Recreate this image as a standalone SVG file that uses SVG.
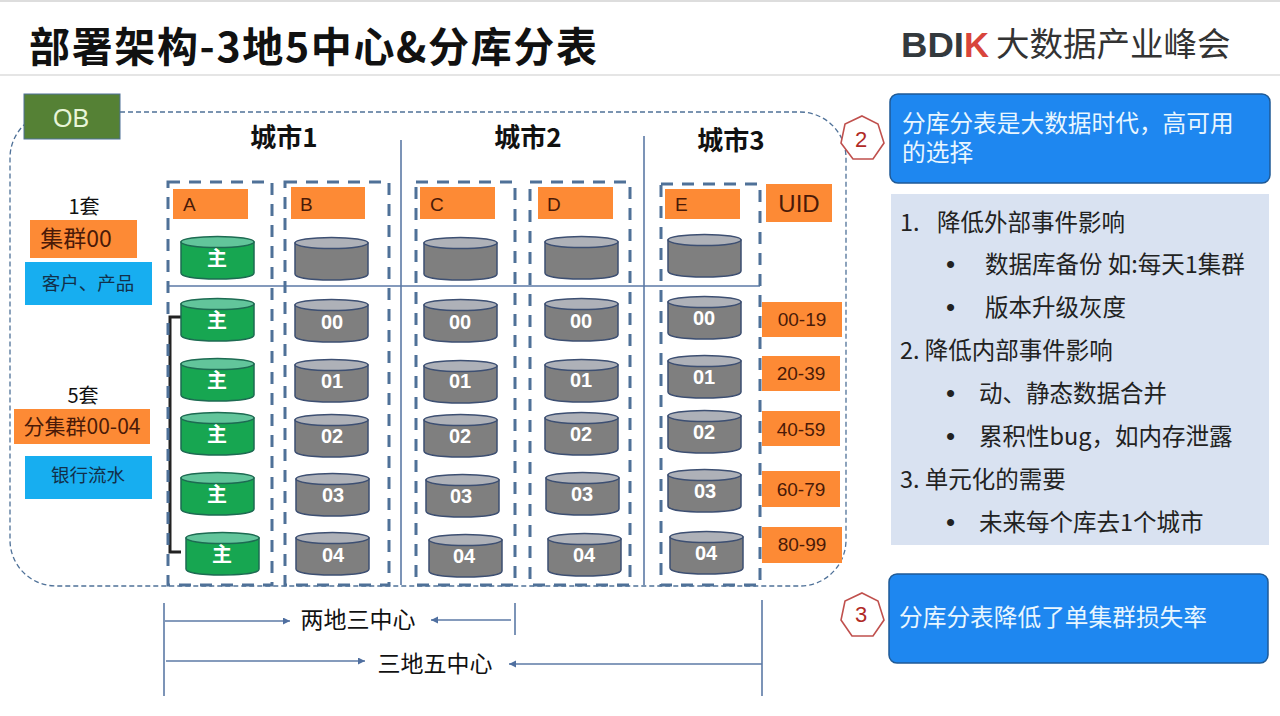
<svg xmlns="http://www.w3.org/2000/svg" width="1280" height="716" viewBox="0 0 1280 716">
<style>
text{font-family:"Liberation Sans","Noto Sans CJK SC",sans-serif;fill:#111}
.cjk{font-family:"Noto Sans CJK SC",sans-serif}
.m{text-anchor:middle}
.org{fill:#fd8a35}
.ot{fill:#4a1a08;font-size:19px}
.col{fill:none;stroke:#4f7198;stroke-width:3;stroke-dasharray:12 9}
.ln{fill:none;stroke:#5c7aa6;stroke-width:1.6}
.ar{fill:none;stroke:#5c7aa6;stroke-width:1.6;marker-end:url(#ah)}
.cb{fill:#fff;font-size:20px;font-weight:700;text-anchor:middle}
.city{font-size:26px;font-weight:700;text-anchor:middle}
.b{fill:#1e87f0;stroke:#1f5a96;stroke-width:1.5}
.rt{fill:#222;font-size:23.5px}
.dot{fill:#222;font-size:26px;font-family:"Liberation Sans",sans-serif}
.wt{fill:#e8f6ff;font-size:23.7px}
.hex{fill:#fff;stroke:#c0504d;stroke-width:1.6}
.hext{fill:#b02a26;font-size:22px;text-anchor:middle}
</style>
<defs>
<marker id="ah" markerWidth="8" markerHeight="8" refX="7" refY="3.5" orient="auto" markerUnits="userSpaceOnUse"><path d="M0 0L7 3.5L0 7z" fill="#4f6fa0"/></marker>
<g id="gc"><path d="M0 6V37C0 41 16 43 36.500 43S73 41 73 37V6z" fill="#17a651" stroke="#1d6b52" stroke-width="1.500"/><ellipse cx="36.500" cy="6" rx="36.500" ry="5.500" fill="#62c59b" stroke="#1d6b52" stroke-width="1.500"/></g>
<g id="yc"><path d="M0 6V37C0 41 16 43 36.500 43S73 41 73 37V6z" fill="#7f7f7f" stroke="#3d4f72" stroke-width="1.500"/><ellipse cx="36.500" cy="6" rx="36.500" ry="5.500" fill="#aeb1b8" stroke="#3d4f72" stroke-width="1.500"/></g>
</defs>
<rect width="1280" height="716" fill="#fff"/>
<rect x="0" y="0" width="1280" height="2" fill="#ddd"/>
<path d="M0 75H1280" stroke="#dcdcdc" stroke-width="1.500"/>
<g id="title"><text x="29" y="62" font-size="41" font-weight="700" class="cjk" textLength="568">部署架构-3地5中心&amp;分库分表</text></g>
<g id="logo"><text x="901" y="57" font-size="35" font-weight="700" style="fill:#33393d" textLength="63" lengthAdjust="spacingAndGlyphs">BDI</text><text x="964" y="57" font-size="35" font-weight="700" style="fill:#d8453c" textLength="25" lengthAdjust="spacingAndGlyphs">K</text><text x="996" y="56" font-size="33.500" style="fill:#333" class="cjk">大数据产业峰会</text></g>

<g id="ob-area"><rect x="10" y="112" width="836" height="474" rx="46" fill="none" stroke="#4f7198" stroke-width="1.300" stroke-dasharray="5 3"/></g>
<g id="ob"><rect x="24" y="94" width="96" height="45" fill="#558135" stroke="#4f7198"/><text x="71" y="127" class="m" font-size="25" style="fill:#e8f5d8">OB</text></g>

<g id="connectors">
<path class="ln" d="M169 286H760M401 140V585M644 136V585"/>
<path d="M181 317H170V552H181" fill="none" stroke="#222" stroke-width="3"/>
<path class="ln" d="M164 603V696M515 603V635M762 600V696"/>
<path class="ar" d="M165 621H290"/>
<path class="ar" d="M511 620H431"/>
<path class="ar" d="M166 661H365"/>
<path class="ar" d="M762 664H509"/>
</g>

<g id="columns">
<rect class="col" x="168" y="182" width="104" height="403"/>
<rect class="col" x="285" y="182" width="104" height="403"/>
<rect class="col" x="416" y="182" width="99" height="403"/>
<rect class="col" x="530" y="182" width="100" height="403"/>
<rect class="col" x="661" y="184" width="99" height="401"/>
</g>

<g id="city1"><text x="284" y="147" class="city cjk">城市1</text></g>
<g id="city2"><text x="528" y="147" class="city cjk">城市2</text></g>
<g id="city3"><text x="731" y="150" class="city cjk">城市3</text></g>

<g id="label-a"><rect class="org" x="173" y="189" width="75" height="30"/><text class="ot" x="183" y="211">A</text></g>
<g id="label-b"><rect class="org" x="291" y="187" width="74" height="32"/><text class="ot" x="300" y="211">B</text></g>
<g id="label-c"><rect class="org" x="420" y="187" width="75" height="32"/><text class="ot" x="430" y="211">C</text></g>
<g id="label-d"><rect class="org" x="538" y="187" width="75" height="32"/><text class="ot" x="547" y="211">D</text></g>
<g id="label-e"><rect class="org" x="665" y="189" width="75" height="30"/><text class="ot" x="675" y="211">E</text></g>
<g id="label-uid"><rect class="org" x="766" y="184" width="66" height="38"/><text class="ot m" x="799" y="212" style="font-size:24px">UID</text></g>

<g id="set1"><text x="84" y="214" class="m cjk" font-size="20">1套</text><rect class="org" x="30" y="220" width="107" height="38"/><text x="76" y="247" class="m ot cjk" style="font-size:23px">集群00</text><rect x="25" y="262" width="127" height="43" fill="#17aef0"/><text x="88" y="290" class="m cjk" font-size="18.500" style="fill:#12304a">客户、产品</text></g>
<g id="set5"><text x="83" y="403" class="m cjk" font-size="20">5套</text><rect class="org" x="14" y="409" width="136" height="35"/><text x="82" y="434" class="m ot cjk" style="font-size:21px">分集群00-04</text><rect x="25" y="456" width="127" height="43" fill="#17aef0"/><text x="88" y="482" class="m cjk" font-size="18.500" style="fill:#12304a">银行流水</text></g>

<g id="db-a-m"><use href="#gc" x="181" y="236"/><text class="cb cjk" x="217" y="266">主</text></g>
<g id="db-a-0"><use href="#gc" x="181" y="298"/><text class="cb cjk" x="217" y="328">主</text></g>
<g id="db-a-1"><use href="#gc" x="181" y="358"/><text class="cb cjk" x="217" y="388">主</text></g>
<g id="db-a-2"><use href="#gc" x="181" y="412"/><text class="cb cjk" x="217" y="442">主</text></g>
<g id="db-a-3"><use href="#gc" x="181" y="472"/><text class="cb cjk" x="217" y="502">主</text></g>
<g id="db-a-4"><use href="#gc" x="186" y="532"/><text class="cb cjk" x="222" y="562">主</text></g>

<g id="db-b-m"><use href="#yc" x="295" y="237"/></g>
<g id="db-b-0"><use href="#yc" x="295" y="299"/><text class="cb" x="332" y="329">00</text></g>
<g id="db-b-1"><use href="#yc" x="295" y="359"/><text class="cb" x="332" y="388">01</text></g>
<g id="db-b-2"><use href="#yc" x="295" y="414"/><text class="cb" x="332" y="443">02</text></g>
<g id="db-b-3"><use href="#yc" x="296" y="473"/><text class="cb" x="333" y="502">03</text></g>
<g id="db-b-4"><use href="#yc" x="296" y="532"/><text class="cb" x="333" y="562">04</text></g>

<g id="db-c-m"><use href="#yc" x="424" y="237"/></g>
<g id="db-c-0"><use href="#yc" x="424" y="299"/><text class="cb" x="460" y="329">00</text></g>
<g id="db-c-1"><use href="#yc" x="424" y="360"/><text class="cb" x="460" y="388">01</text></g>
<g id="db-c-2"><use href="#yc" x="424" y="414"/><text class="cb" x="460" y="443">02</text></g>
<g id="db-c-3"><use href="#yc" x="426" y="474"/><text class="cb" x="461" y="503">03</text></g>
<g id="db-c-4"><use href="#yc" x="429" y="534"/><text class="cb" x="464" y="563">04</text></g>

<g id="db-d-m"><use href="#yc" x="545" y="236"/></g>
<g id="db-d-0"><use href="#yc" x="545" y="298"/><text class="cb" x="581" y="328">00</text></g>
<g id="db-d-1"><use href="#yc" x="545" y="359"/><text class="cb" x="581" y="387">01</text></g>
<g id="db-d-2"><use href="#yc" x="545" y="412"/><text class="cb" x="581" y="441">02</text></g>
<g id="db-d-3"><use href="#yc" x="546" y="472"/><text class="cb" x="582" y="501">03</text></g>
<g id="db-d-4"><use href="#yc" x="548" y="533"/><text class="cb" x="584" y="562">04</text></g>

<g id="db-e-m"><use href="#yc" x="668" y="234"/></g>
<g id="db-e-0"><use href="#yc" x="668" y="296"/><text class="cb" x="704" y="325">00</text></g>
<g id="db-e-1"><use href="#yc" x="668" y="355"/><text class="cb" x="704" y="384">01</text></g>
<g id="db-e-2"><use href="#yc" x="668" y="410"/><text class="cb" x="704" y="439">02</text></g>
<g id="db-e-3"><use href="#yc" x="668" y="469"/><text class="cb" x="705" y="498">03</text></g>
<g id="db-e-4"><use href="#yc" x="670" y="531"/><text class="cb" x="706" y="560">04</text></g>

<g id="uid-0"><rect class="org" x="762" y="302" width="80" height="35"/><text class="ot m" x="802" y="326">00-19</text></g>
<g id="uid-1"><rect class="org" x="762" y="356" width="78" height="35"/><text class="ot m" x="801" y="380">20-39</text></g>
<g id="uid-2"><rect class="org" x="762" y="411" width="78" height="35"/><text class="ot m" x="801" y="436">40-59</text></g>
<g id="uid-3"><rect class="org" x="762" y="471" width="78" height="36"/><text class="ot m" x="801" y="496">60-79</text></g>
<g id="uid-4"><rect class="org" x="762" y="527" width="80" height="36"/><text class="ot m" x="802" y="551">80-99</text></g>

<g id="badge-2"><path class="hex" d="M862 116L878 124L884 143L873 159H853L841 143L845 124z"/><text class="hext" x="861" y="147">2</text></g>
<g id="badge-3"><path class="hex" d="M862 593L878 601L884 620L873 636H852L841 620L845 601z"/><text class="hext" x="861" y="622">3</text></g>

<g id="callout-1"><rect class="b" x="890" y="94" width="380" height="89" rx="8"/><text class="wt"><tspan x="902" y="132">分库分表是大数据时代，高可用</tspan><tspan x="902" y="161">的选择</tspan></text></g>
<g id="callout-2"><rect class="b" x="889" y="574" width="379" height="89" rx="8"/><text class="wt" x="899" y="626">分库分表降低了单集群损失率</text></g>

<g id="panel"><rect x="891" y="194" width="378" height="351" fill="#d9e2f1"/>
<text class="rt cjk" x="900" y="231">1.</text><text class="rt cjk" x="937" y="231">降低外部事件影响</text>
<text class="dot" x="946" y="273">•</text><text class="rt cjk" x="985" y="273">数据库备份 如:每天1集群</text>
<text class="dot" x="946" y="316">•</text><text class="rt cjk" x="985" y="316">版本升级灰度</text>
<text class="rt cjk" x="900" y="359">2. 降低内部事件影响</text>
<text class="dot" x="946" y="402">•</text><text class="rt cjk" x="979" y="402">动、静态数据合并</text>
<text class="dot" x="946" y="445">•</text><text class="rt cjk" x="979" y="445">累积性bug，如内存泄露</text>
<text class="rt cjk" x="900" y="488">3. 单元化的需要</text>
<text class="dot" x="946" y="531">•</text><text class="rt cjk" x="979" y="531">未来每个库去1个城市</text>
</g>
<g id="span-1"><text class="cjk m" x="358" y="628" font-size="23">两地三中心</text></g>
<g id="span-2"><text class="cjk m" x="435" y="672" font-size="23">三地五中心</text></g>
</svg>
